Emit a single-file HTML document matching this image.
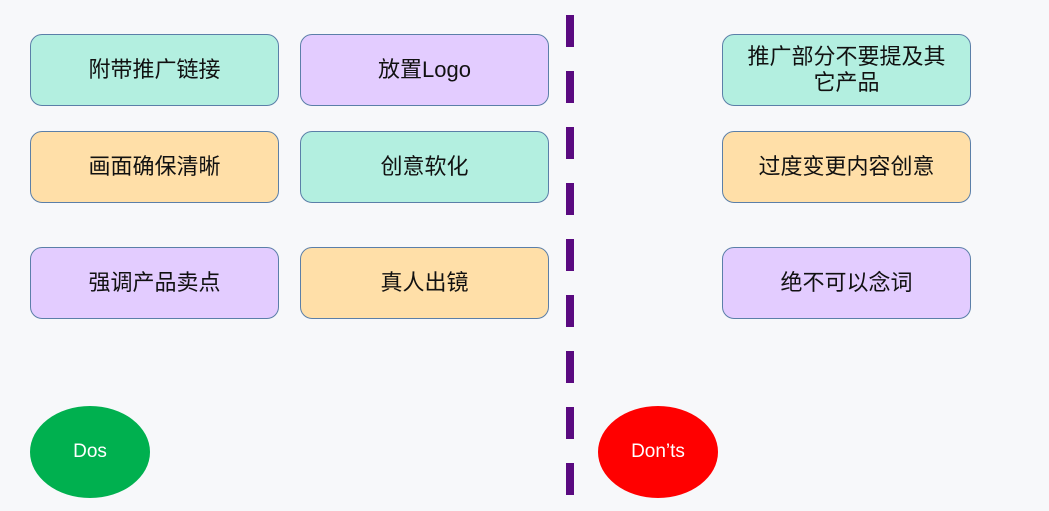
<!DOCTYPE html>
<html><head><meta charset="utf-8"><style>
body{margin:0;width:1049px;height:511px;background:#f7f8fa;position:relative;overflow:hidden;font-family:"Liberation Sans","Noto Sans CJK SC",sans-serif}
.b{position:absolute;width:249px;height:72px;border:1px solid #5b7fa8;border-radius:12px;box-sizing:border-box;display:flex;align-items:center;justify-content:center;text-align:center;font-size:22px;line-height:26px;color:#111}
.t{background:#b3efe0}.p{background:#e3ccff}.o{background:#ffdfa8}
.e{position:absolute;width:120px;height:92px;border-radius:50%;display:flex;align-items:center;justify-content:center;color:#fff;font-size:19px}
</style></head><body>
<div class="b t" style="left:30px;top:34px">附带推广链接</div>
<div class="b p" style="left:300px;top:34px">放置Logo</div>
<div class="b t" style="left:722px;top:34px">推广部分不要提及其<br>它产品</div>
<div class="b o" style="left:30px;top:131px">画面确保清晰</div>
<div class="b t" style="left:300px;top:131px">创意软化</div>
<div class="b o" style="left:722px;top:131px">过度变更内容创意</div>
<div class="b p" style="left:30px;top:247px">强调产品卖点</div>
<div class="b o" style="left:300px;top:247px">真人出镜</div>
<div class="b p" style="left:722px;top:247px">绝不可以念词</div>
<svg style="position:absolute;left:0;top:0" width="1049" height="511"><line x1="570" y1="15" x2="570" y2="500" stroke="#5a0a80" stroke-width="8" stroke-dasharray="32 24"/></svg>
<div class="e" style="left:30px;top:406px;background:#00b04f">Dos</div>
<div class="e" style="left:598px;top:406px;background:#ff0000">Don’ts</div>
</body></html>
